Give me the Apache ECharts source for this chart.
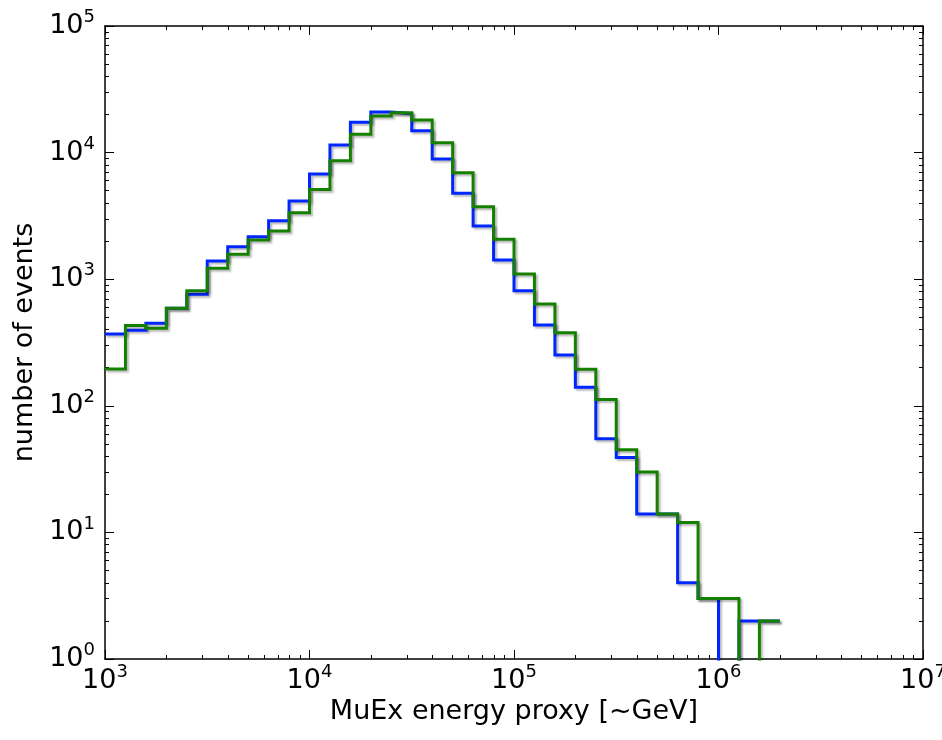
<!DOCTYPE html>
<html>
<head>
<meta charset="utf-8">
<script src="https://cdn.jsdelivr.net/npm/echarts@6/dist/echarts.min.js"></script>
<style>html,body{margin:0;padding:0;background:#fff}#c{width:942px;height:740px}</style>
</head>
<body>
<div id="c"></div>
<script>
// bin edges (log-spaced, 10 per decade) [GeV]
const binEdges = [1000, 1258.9, 1584.9, 1995.3, 2511.9, 3162.3, 3981.1, 5011.9, 6309.6, 7943.3,
  10000, 12589, 15849, 19953, 25119, 31623, 39811, 50119, 63096, 79433,
  100000, 125893, 158489, 199526, 251189, 316228, 398107, 501187, 630957, 794328,
  1000000, 1258925, 1584893, 1995262];
// counts per bin (0 = empty bin)
const blueCounts = [369, 395, 449, 590, 760, 1393, 1807, 2166, 2899, 4150,
  6776, 11480, 17350, 20930, 20300, 14900, 8900, 4770, 2631, 1418,
  811, 435, 252, 140, 55, 39, 14, 14, 4, 3,
  0, 2, 2];
const greenCounts = [195, 431, 410, 590, 811, 1219, 1574, 2040, 2403, 3356,
  5100, 8630, 13940, 19450, 20660, 18100, 11970, 6940, 3741, 2066,
  1099, 637, 378, 194, 112, 45, 30, 14, 12, 3,
  3, 0, 2];
const xTicks = [1e3, 1e4, 1e5, 1e6, 1e7];
const yTicks = [1, 10, 100, 1000, 10000, 100000];

const FLOOR = 0.01; // empty bins drawn below the axis and clipped
function stepPoints(counts) {
  const pts = [];
  for (let i = 0; i < counts.length; i++) {
    const v = counts[i] > 0 ? counts[i] : FLOOR;
    pts.push([binEdges[i], v]);
    pts.push([binEdges[i + 1], v]);
  }
  return pts;
}
function expLabel(v) {
  const e = Math.round(Math.log10(v));
  return '{b|10}{s|' + e + '}';
}
const font = 'DejaVu Sans';
const rich = {
  b: {fontSize: 27, fontFamily: font, color: '#000'},
  s: {fontSize: 18, fontFamily: font, color: '#000', padding: [0, 0, 17, 0]}
};
function xAxisCfg(pos, show) {
  return {
    type: 'log', logBase: 10, min: 1e3, max: 1e7, position: pos,
    axisLine: {show: true, onZero: false, lineStyle: {color: '#000', width: 1.5}},
    axisTick: {show: true, inside: true, length: 9, lineStyle: {color: '#000', width: 1}},
    minorTick: {show: true, splitNumber: 9, length: 4, lineStyle: {color: '#000', width: 1}},
    splitLine: {show: false},
    axisLabel: show ? {show: true, formatter: expLabel, rich: rich, margin: 4, hideOverlap: false} : {show: false},
    name: show ? 'MuEx energy proxy [~GeV]' : '',
    nameLocation: 'middle', nameGap: 24,
    nameTextStyle: {fontSize: 27, fontFamily: font, color: '#000'}
  };
}
function yAxisCfg(pos, show) {
  return {
    type: 'log', logBase: 10, min: 1, max: 1e5, position: pos,
    axisLine: {show: true, onZero: false, lineStyle: {color: '#000', width: 1.5}},
    axisTick: {show: true, inside: true, length: 9, lineStyle: {color: '#000', width: 1}},
    minorTick: {show: true, splitNumber: 9, length: 4, lineStyle: {color: '#000', width: 1}},
    splitLine: {show: false},
    axisLabel: show ? {show: true, formatter: expLabel, rich: rich, margin: 10} : {show: false},
    name: show ? 'number of events' : '',
    nameLocation: 'middle', nameGap: 62,
    nameTextStyle: {fontSize: 27, fontFamily: font, color: '#000'}
  };
}
const shadow = {shadowColor: 'rgba(0,0,0,0.28)', shadowBlur: 2, shadowOffsetX: 2, shadowOffsetY: 2};
const chart = echarts.init(document.getElementById('c'), null, {renderer: 'canvas'});
chart.setOption({
  animation: false,
  backgroundColor: '#fff',
  grid: {left: 105, right: 19, top: 26, bottom: 81, containLabel: false, outerBoundsMode: 'none'},
  xAxis: [xAxisCfg('bottom', true), xAxisCfg('top', false)],
  yAxis: [yAxisCfg('left', true), yAxisCfg('right', false)],
  series: [
    {type: 'line', data: stepPoints(blueCounts), showSymbol: false, clip: true,
      lineStyle: Object.assign({color: '#0026ff', width: 3, join: 'miter'}, shadow)},
    {type: 'line', data: stepPoints(greenCounts), showSymbol: false, clip: true,
      lineStyle: Object.assign({color: '#158000', width: 3, join: 'miter'}, shadow)}
  ]
});
</script>
</body>
</html>
